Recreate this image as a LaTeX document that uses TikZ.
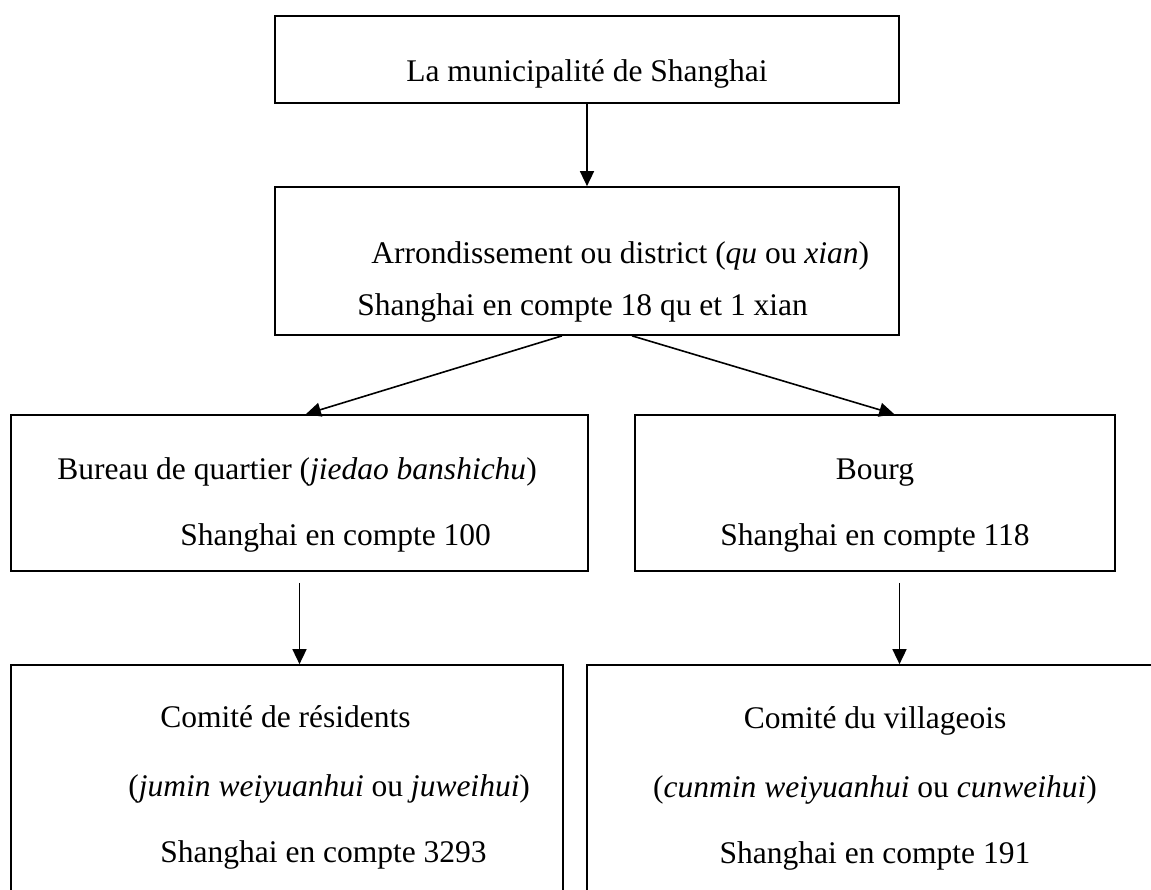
\documentclass[tikz,border=0pt]{standalone}
\usepackage{fontspec}
\setmainfont{Liberation Serif}
\usetikzlibrary{fit,calc,arrows.meta}
\begin{document}
\begin{tikzpicture}[x=0.5pt,y=-0.5pt,
  box/.style={draw,line width=0.85pt,inner sep=0pt,rectangle},
  arr/.style={line width=0.8pt,-{Triangle[length=7.5pt,width=7pt]}},
  lbl/.style={inner sep=0pt,font=\fontsize{15.75}{19}\selectfont}]
\useasboundingbox (0,0) rectangle (1151,889);
\clip (0,0) rectangle (1151,889);
% boxes
\node[box,fit={(275,16) (899,103)}] (muni) {};
\node[box,fit={(275,187) (899,335)}] (dist) {};
\node[box,fit={(11,415) (588,571)}] (bur) {};
\node[box,fit={(635,415) (1115,571)}] (bourg) {};
\node[box,fit={(11,665) (563,950)}] (res) {};
\node[box,fit={(587,665) (1163,950)}] (vil) {};
% texts
\node[lbl,anchor=base] (tmuni) at (587,81) {La municipalité de Shanghai};
\node[lbl,anchor=base west] (tdist1) at (371,263) {Arrondissement ou district (\textit{qu} ou \textit{xian})};
\node[lbl,anchor=base west] (tdist2) at (357,315) {Shanghai en compte 18 qu et 1 xian};
\node[lbl,anchor=base west] (tbur1) at (57,479) {Bureau de quartier (\textit{jiedao banshichu})};
\node[lbl,anchor=base west] (tbur2) at (180,545) {Shanghai en compte 100};
\node[lbl,anchor=base] (tbourg1) at (875,479) {Bourg};
\node[lbl,anchor=base] (tbourg2) at (875,545) {Shanghai en compte 118};
\node[lbl,anchor=base west] (tres1) at (160,727) {Comité de résidents};
\node[lbl,anchor=base west] (tres2) at (128,796) {(\textit{jumin weiyuanhui} ou \textit{juweihui})};
\node[lbl,anchor=base west] (tres3) at (160,862) {Shanghai en compte 3293};
\node[lbl,anchor=base] (tvil1) at (875,728) {Comité du villageois};
\node[lbl,anchor=base] (tvil2) at (875,797) {(\textit{cunmin weiyuanhui} ou \textit{cunweihui})};
\node[lbl,anchor=base] (tvil3) at (875,863) {Shanghai en compte 191};
% arrows
\draw[arr] (muni.south) -- (dist.north);
\draw[arr] ($(dist.south west)!0.46!(dist.south east)$) -- ($(bur.north west)!0.511!(bur.north east)$);
\draw[arr] ($(dist.south west)!0.572!(dist.south east)$) -- ($(bourg.north west)!0.54!(bourg.north east)$);
\draw[arr] ([yshift=-5.5pt]bur.south) -- (bur.south |- res.north);
\draw[arr] ([xshift=12.25pt,yshift=-5.5pt]bourg.south) -- ([xshift=12.25pt]bourg.south |- vil.north);
\end{tikzpicture}
\end{document}
